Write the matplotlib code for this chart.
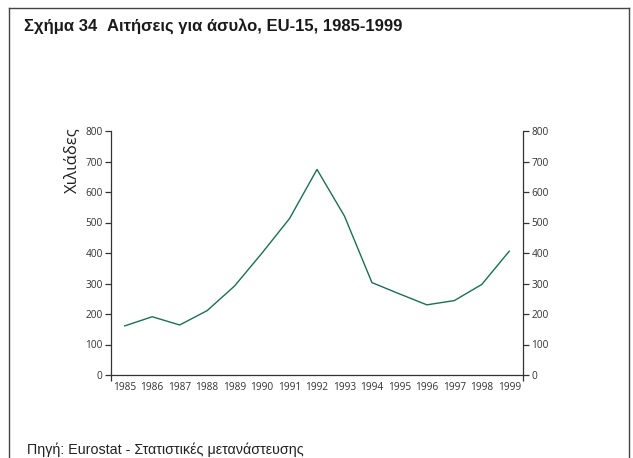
import numpy as np
import matplotlib
matplotlib.use("Agg")
from matplotlib import pyplot as plt
from matplotlib.lines import Line2D

# data (thousands of asylum applications, EU-15)
years = ["1985", "1986", "1987", "1988", "1989", "1990", "1991", "1992",
         "1993", "1994", "1995", "1996", "1997", "1998", "1999"]
applications = [161, 191, 164, 211, 292, 400, 513, 674,
                521, 303, 266, 230, 244, 297, 406]
y_ticks = [0, 100, 200, 300, 400, 500, 600, 700, 800]

title_num = "Σχήμα 34"
title_text = "Αιτήσεις για άσυλο, EU-15, 1985-1999"
ylabel = "Χιλιάδες"
source = "Πηγή: Eurostat - Στατιστικές μετανάστευσης"

W, H = 633, 458
fig = plt.figure(figsize=(W / 100, H / 100), dpi=100)

# outer frame (open at the bottom)
fc = "#444444"
fig.add_artist(Line2D([9 / W, 9 / W], [0, 1 - 8 / H], color=fc, lw=1.0, transform=fig.transFigure))
fig.add_artist(Line2D([9 / W, 629 / W], [1 - 8 / H, 1 - 8 / H], color=fc, lw=1.0, transform=fig.transFigure))
fig.add_artist(Line2D([629 / W, 629 / W], [0, 1 - 8 / H], color=fc, lw=1.0, transform=fig.transFigure))

fig.text(24 / W, 1 - 26 / H, title_num, fontsize=12, fontweight="bold",
         family="Liberation Sans", va="center", ha="left", color="#1a1a1a")
fig.text(107 / W, 1 - 26 / H, title_text, fontsize=12, fontweight="bold",
         family="Liberation Sans", va="center", ha="left", color="#1a1a1a")
fig.text(27 / W, 1 - 450 / H, source, fontsize=10.3,
         family="Liberation Sans", va="center", ha="left", color="#222222")

left, right, bottom, top = 111 / W, 523 / W, 1 - 375 / H, 1 - 131 / H
ax = fig.add_axes([left, bottom, right - left, top - bottom])

x = np.arange(len(years))
ax.plot(x, applications, color="#1d6e55", lw=1.0)

ax.set_xlim(-0.5, len(years) - 0.5)
ax.set_ylim(0, 800)
ax.set_yticks(y_ticks)
ax.set_xticks(x)
ax.set_xticklabels(years)
ax.set_xticks([-0.5, len(years) - 0.5], minor=True)

ax.spines["top"].set_visible(False)
for s in ["left", "right", "bottom"]:
    ax.spines[s].set_color("#333333")
    ax.spines[s].set_linewidth(0.9)

ax.tick_params(axis="x", which="major", length=0, pad=5, labelsize=7.3, labelcolor="#333333")
ax.tick_params(axis="x", which="minor", length=4, width=0.9, color="#333333")
ax.tick_params(axis="y", which="major", length=4, width=0.9, color="#333333",
               labelsize=7.3, labelcolor="#333333", pad=2,
               left=True, right=True, labelleft=True, labelright=True)

for lab in ax.get_xticklabels() + ax.get_yticklabels():
    lab.set_family("Open Sans")

fig.text(73 / W, 1 - 160 / H, ylabel, rotation=90, fontsize=12,
         family="Open Sans", va="center", ha="center", color="#222222")

fig.savefig("out.png", dpi=100)
